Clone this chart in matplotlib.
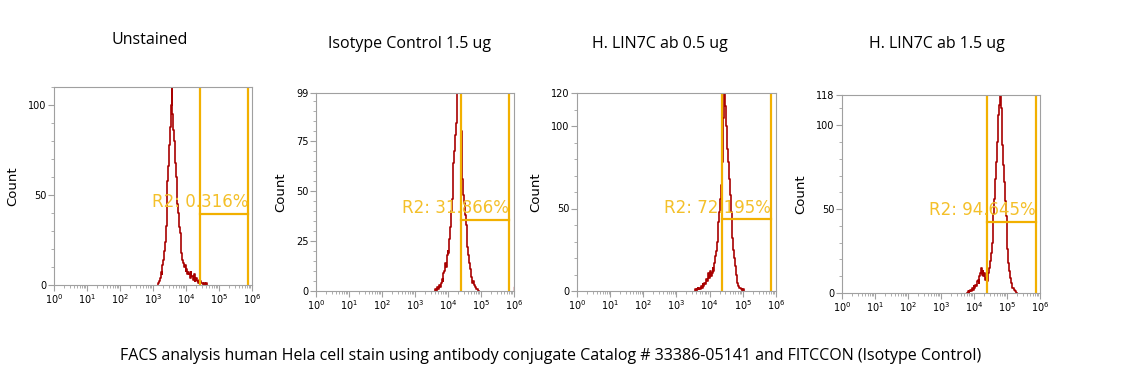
"""
FACS histograms: human Hela cells, LIN7C antibody conjugate vs isotype control.
Outputs out.png
"""

import numpy as np
import matplotlib

matplotlib.use("Agg")
import matplotlib.pyplot as plt
from matplotlib.ticker import FixedLocator, MultipleLocator, NullFormatter

titles = ["Unstained", "Isotype Control 1.5 ug", "H. LIN7C ab 0.5 ug", "H. LIN7C ab 1.5 ug"]
caption = "FACS analysis human Hela cell stain using antibody conjugate Catalog # 33386-05141 and FITCCON (Isotype Control)"

# histogram bins: first bin in log10 units, fixed bin width 0.025 decades
bin_step = 0.025
hist_start = [3.15, 3.60, 3.55, 3.80]
counts_unstained = [0, 1, 2, 4, 7, 6, 11, 14, 19, 24, 33, 42, 58, 66, 78, 88, 100, 110, 95, 86,
                    80, 68, 60, 52, 45, 40, 32, 29, 22, 18, 14, 12, 10, 11, 8, 9, 6, 7, 6, 4,
                    7, 5, 5, 3, 6, 2, 3, 4, 2, 1, 3, 1, 2, 1, 1, 0, 1, 0, 0, 1, 0]
counts_isotype = [0, 1, 0, 2, 1, 2, 3, 2, 4, 6, 5, 9, 10, 14, 12, 18, 20, 19, 26, 32,
                  40, 46, 55, 64, 70, 78, 84, 92, 99, 99, 99, 99, 80, 62, 56, 48, 44, 38, 33, 28,
                  22, 18, 14, 11, 7, 6, 4, 5, 3, 2, 2, 1, 1, 0, 0]
counts_lin7c_05 = [0, 1, 0, 1, 2, 1, 2, 1, 3, 2, 4, 3, 5, 4, 7, 6, 9, 11, 8, 12,
                   9, 11, 14, 12, 17, 21, 24, 30, 36, 42, 48, 56, 64, 78, 90, 105, 120, 112, 100, 94,
                   86, 78, 68, 58, 48, 40, 32, 25, 20, 15, 10, 7, 5, 3, 2, 2, 1, 1, 0, 1, 0]
counts_lin7c_15 = [0, 1, 0, 1, 2, 1, 3, 2, 4, 3, 5, 4, 7, 8, 6, 10, 12, 15, 11, 13,
                   10, 12, 8, 9, 7, 10, 12, 15, 19, 24, 30, 38, 47, 56, 68, 78, 90, 100, 106, 112,
                   118, 110, 100, 88, 76, 66, 55, 46, 36, 26, 18, 13, 9, 6, 5, 3, 3, 2, 1, 1, 0]
all_counts = [counts_unstained, counts_isotype, counts_lin7c_05, counts_lin7c_15]

# top-channel (saturated) events, isotype panel only
sat_counts = [0, 2, 0, 0]

y_max = [110, 99, 120, 118]
y_major = [[0, 50, 100], [0, 25, 50, 75, 99], [0, 50, 100, 120], [0, 50, 100, 118]]
y_minor = [10, 5, 10, 10]

# R2 gate: lower / upper fluorescence bound and marker height
gate_lo = [25700, 24500, 23400, 25100]
gate_hi = [776000, 708000, 708000, 741000]
gate_level = [39.7, 35.6, 43.5, 42.5]
gate_pct = ["0.316%", "31.866%", "72.195%", "94.645%"]

# axes boxes in pixels: left, right, top, bottom
W, H = 1139, 392
boxes = [(54, 252, 87, 285), (316, 514, 93, 291), (577, 776, 93, 291), (842, 1040, 95, 293)]
title_x = [150, 409, 660, 937]
title_y = [40, 44, 44, 44]

HIST = "#a80000"
GATE = "#f2b000"
GATE_TXT = "#f4c02a"
SPINE = "#a0a0a0"

fig = plt.figure(figsize=(W / 100, H / 100), dpi=100)

for i in range(4):
    l, r, t, b = boxes[i]
    ax = fig.add_axes([l / W, 1 - b / H, (r - l) / W, (b - t) / H])
    counts = all_counts[i]
    x = 10 ** (hist_start[i] + bin_step * np.arange(len(counts)))
    ax.plot(x, counts, color=HIST, lw=1.2, drawstyle="steps-mid")
    if sat_counts[i]:
        ax.plot([10 ** 5.99, 10 ** 5.99], [0, sat_counts[i]], color=HIST, lw=1.0)

    ax.axvline(gate_lo[i], color=GATE, lw=1.6)
    ax.axvline(gate_hi[i], color=GATE, lw=1.6)
    ax.plot([gate_lo[i], gate_hi[i]], [gate_level[i]] * 2, color=GATE, lw=1.6)
    ax.text(gate_hi[i], gate_level[i] + 1.5, "R2: " + gate_pct[i], color=GATE_TXT,
            fontsize=12, ha="right", va="bottom")

    ax.set_xscale("log")
    ax.set_xlim(1, 1e6)
    ax.set_ylim(0, y_max[i])
    ax.set_xticks([10 ** k for k in range(7)])
    ax.set_xticklabels([r"$10^{%d}$" % k for k in range(7)])
    ax.xaxis.set_minor_locator(FixedLocator(
        [m * 10 ** k for k in range(6) for m in range(2, 10)]))
    ax.xaxis.set_minor_formatter(NullFormatter())
    ax.set_yticks(y_major[i])
    ax.yaxis.set_minor_locator(MultipleLocator(y_minor[i]))

    for s in ax.spines.values():
        s.set_color(SPINE)
        s.set_linewidth(0.8)
    ax.tick_params(which="major", length=4, width=0.8, color=SPINE, labelsize=7, pad=1.5)
    ax.tick_params(which="minor", length=2, width=0.6, color=SPINE)
    ax.set_ylabel("Count", fontsize=9.5, labelpad=6)

    fig.text(title_x[i] / W, 1 - title_y[i] / H, titles[i], fontsize=11.5,
             ha="center", va="center", family="Open Sans")

fig.text(551 / W, 1 - 356 / H, caption, fontsize=11.5, ha="center", va="center",
         family="Open Sans")

fig.savefig("out.png", dpi=100)
